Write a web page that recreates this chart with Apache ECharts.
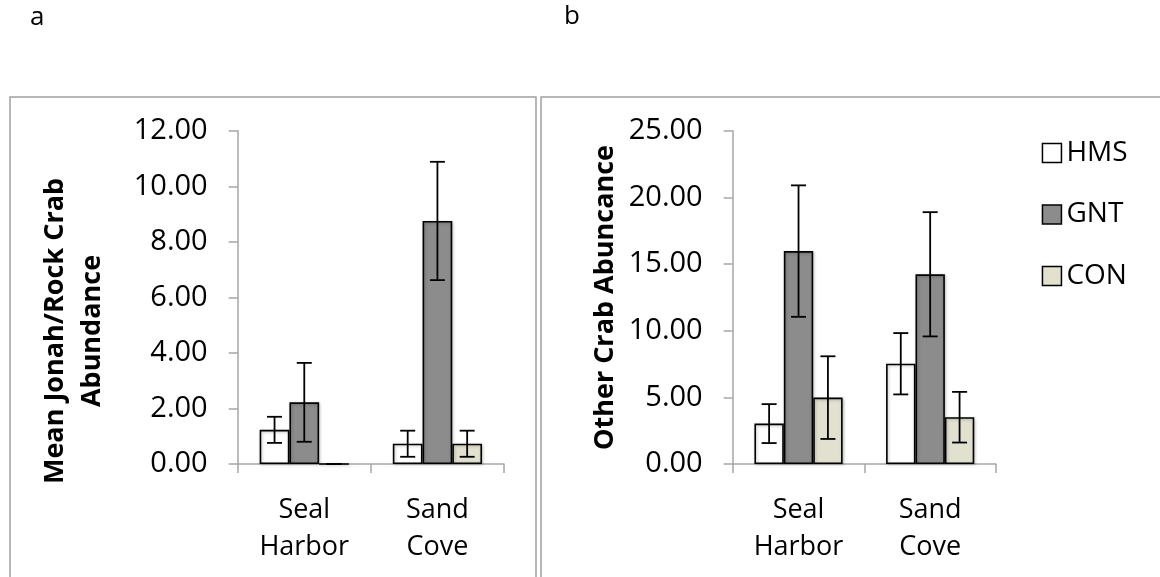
<!DOCTYPE html>
<html>
<head>
<meta charset="utf-8">
<script src="https://cdn.jsdelivr.net/npm/echarts@6/dist/echarts.min.js"></script>
<style>
html,body{margin:0;padding:0;background:#fff;}
#chart{width:1160px;height:577px;}
</style>
</head>
<body>
<div id="chart"></div>
<script>
// ---- data ----
const categories = ['Seal\nHarbor', 'Sand\nCove'];
const seriesNames = ['HMS', 'GNT', 'CON'];

const jonahHMS = [1.23, 0.73];
const jonahHMSErr = [0.47, 0.47];
const jonahGNT = [2.22, 8.75];
const jonahGNTErr = [1.42, 2.13];
const jonahCON = [0, 0.73];
const jonahCONErr = [0, 0.47];

const otherHMS = [3.03, 7.52];
const otherHMSErr = [1.46, 2.30];
const otherGNT = [15.97, 14.23];
const otherGNTErr = [4.93, 4.66];
const otherCON = [4.98, 3.51];
const otherCONErr = [3.10, 1.90];

const leftTicks = { min: 0, max: 12, interval: 2 };
const rightTicks = { min: 0, max: 25, interval: 5 };

const leftTitle = 'Mean Jonah/Rock Crab\nAbundance';
const rightTitle = 'Other Crab Abuncance';
const panelLabels = ['a', 'b'];

// ---- styles ----
const FONT = 'Open Sans';
const colors = { HMS: '#ffffff', GNT: '#8c8c8c', CON: '#e2e0cf' };
const axisGray = '#a6a6a6';
const CAT_GAP = 0.33;

const chart = echarts.init(document.getElementById('chart'), null, { renderer: 'canvas' });

function xAxis(gridIndex) {
  return {
    type: 'category', gridIndex, data: categories,
    axisLine: { show: true, lineStyle: { color: axisGray, width: 1.5 } },
    axisTick: { show: true, length: 9, lineStyle: { color: axisGray, width: 1.5 } },
    axisLabel: { fontFamily: FONT, fontSize: 27, color: '#000', lineHeight: 37, margin: 28 },
    splitLine: { show: false }
  };
}
function yAxis(gridIndex, t) {
  return {
    type: 'value', gridIndex, min: t.min, max: t.max, interval: t.interval,
    axisLine: { show: true, lineStyle: { color: axisGray, width: 1.5 } },
    axisTick: { show: true, length: 9, lineStyle: { color: axisGray, width: 1.5 } },
    axisLabel: { fontFamily: FONT, fontSize: 29, color: '#000', margin: 30,
      formatter: v => v.toFixed(2) },
    splitLine: { show: false }
  };
}

function barSeries(name, data, idx) {
  return {
    type: 'bar', name, data, xAxisIndex: idx, yAxisIndex: idx,
    barGap: '0%', barCategoryGap: (CAT_GAP * 100) + '%',
    itemStyle: { color: colors[name], borderColor: '#000', borderWidth: 1.6,
      shadowColor: 'rgba(0,0,0,0.25)', shadowBlur: 3, shadowOffsetX: 1, shadowOffsetY: 1 },
    emphasis: { disabled: true }
  };
}

function errSeries(name, vals, errs, idx, k) {
  return {
    type: 'custom', name, xAxisIndex: idx, yAxisIndex: idx, z: 10,
    data: vals.map((v, i) => [i, v, errs[i]]),
    encode: { x: 0, y: 1 },
    renderItem: function (params, api) {
      const ci = api.value(0), v = api.value(1), e = api.value(2);
      const band = api.size([1, 0])[0];
      const bw = band * (1 - CAT_GAP) / 3;
      const cx = api.coord([ci, v])[0] + (k - 1) * bw;
      const top = api.coord([ci, v + e])[1];
      const bot = api.coord([ci, v - e])[1];
      const hw = 7.5;
      const st = { stroke: '#000', lineWidth: 1.8 };
      return { type: 'group', children: [
        { type: 'line', shape: { x1: cx, y1: top, x2: cx, y2: bot }, style: st },
        { type: 'line', shape: { x1: cx - hw, y1: top, x2: cx + hw, y2: top }, style: st },
        { type: 'line', shape: { x1: cx - hw, y1: bot, x2: cx + hw, y2: bot }, style: st }
      ]};
    }
  };
}

const titleStyle = { fontFamily: FONT, fontSize: 27, fontWeight: 'bold', fill: '#000',
  lineHeight: 37, align: 'center', verticalAlign: 'middle' };

const option = {
  backgroundColor: '#fff',
  animation: false,
  grid: [
    { left: 237.7, top: 130.7, width: 266.3, height: 333.3 },
    { left: 732.7, top: 130.7, width: 263.3, height: 333.3 }
  ],
  legend: {
    orient: 'vertical', left: 1041.7, top: 139, padding: 0,
    data: seriesNames, icon: 'rect', itemWidth: 19, itemHeight: 19, itemGap: 33.5,
    textStyle: { fontFamily: FONT, fontSize: 28, color: '#000' },
    itemStyle: { borderColor: '#000', borderWidth: 1.5 },
    selectedMode: false
  },
  xAxis: [xAxis(0), xAxis(1)],
  yAxis: [yAxis(0, leftTicks), yAxis(1, rightTicks)],
  graphic: [
    { type: 'rect', shape: { x: 10, y: 97, width: 526, height: 520 },
      style: { fill: 'none', stroke: '#a0a0a0', lineWidth: 1.5 }, silent: true },
    { type: 'rect', shape: { x: 541, y: 97, width: 700, height: 520 },
      style: { fill: 'none', stroke: '#a0a0a0', lineWidth: 1.5 }, silent: true },
    { type: 'text', x: 30, y: 18, style: { text: panelLabels[0], fontFamily: FONT, fontSize: 26, fill: '#000', verticalAlign: 'middle' } },
    { type: 'text', x: 564, y: 17, style: { text: panelLabels[1], fontFamily: FONT, fontSize: 26, fill: '#000', verticalAlign: 'middle' } },
    { type: 'text', x: 73.5, y: 331, rotation: Math.PI / 2, style: Object.assign({ text: leftTitle }, titleStyle) },
    { type: 'text', x: 605, y: 297.5, rotation: Math.PI / 2, style: Object.assign({ text: rightTitle }, titleStyle) }
  ],
  series: [
    barSeries('HMS', jonahHMS, 0),
    barSeries('GNT', jonahGNT, 0),
    barSeries('CON', jonahCON, 0),
    errSeries('HMS', jonahHMS, jonahHMSErr, 0, 0),
    errSeries('GNT', jonahGNT, jonahGNTErr, 0, 1),
    errSeries('CON', jonahCON, jonahCONErr, 0, 2),
    barSeries('HMS', otherHMS, 1),
    barSeries('GNT', otherGNT, 1),
    barSeries('CON', otherCON, 1),
    errSeries('HMS', otherHMS, otherHMSErr, 1, 0),
    errSeries('GNT', otherGNT, otherGNTErr, 1, 1),
    errSeries('CON', otherCON, otherCONErr, 1, 2)
  ]
};
chart.setOption(option);
</script>
</body>
</html>
